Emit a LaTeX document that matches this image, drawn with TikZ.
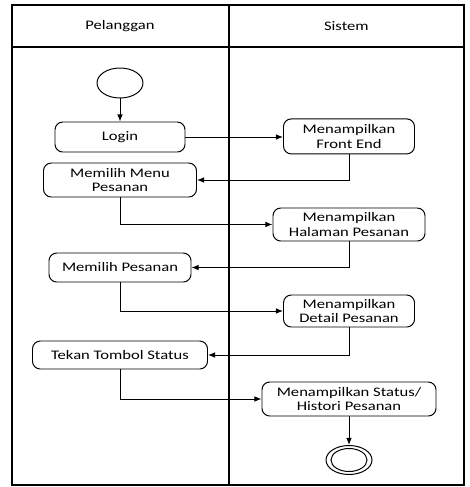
\documentclass[tikz,border=0pt]{standalone}
\usepackage{fontspec}
\setmainfont{Carlito}[FakeStretch=1.27]
\usetikzlibrary{arrows.meta,shapes.geometric,positioning}

\begin{document}
\begin{tikzpicture}[
  >={Latex[length=5pt,width=4pt]}, font=\fontsize{9.3}{10.3}\selectfont,
  act/.style={draw, line width=0.7pt, rounded corners=5.5pt, align=center, inner sep=0pt},
  bullet/.style={draw, ellipse, line width=0.7pt, inner sep=0pt},
  flow/.style={->, line width=0.7pt}
]
\useasboundingbox (0,0) rectangle (11.75,-12.175);
\draw[line width=1.1pt] (0.3,-0.125) rectangle (11.6,-12.125);
\draw[line width=0.8pt] (0.3,-1.175) -- (11.6,-1.175);
\draw[line width=1pt] (5.725,-0.125) -- (5.725,-12.125);
\node (pelanggan) at (3.0,-0.65) {Pelanggan};
\node (sistem) at (8.66,-0.65) {Sistem};

\node[bullet, minimum width=1.15cm, minimum height=0.75cm] (mulai) at (3.0,-2.075) {};
\node[act, minimum width=3.25cm, minimum height=0.75cm] (login) at (3.0,-3.425) {Login};
\node[act, minimum width=3.275cm, minimum height=0.875cm] (front) at (8.725,-3.41) {Menampilkan\\Front End};
\node[act, minimum width=3.825cm, minimum height=0.85cm] (menu) at (3.0,-4.5) {Memilih Menu\\Pesanan};
\node[act, minimum width=3.8cm, minimum height=0.825cm] (halaman) at (8.725,-5.6125) {Menampilkan\\Halaman Pesanan};
\node[act, minimum width=3.55cm, minimum height=0.725cm] (pilih) at (3.0,-6.6875) {Memilih Pesanan};
\node[act, minimum width=3.275cm, minimum height=0.8cm] (detail) at (8.725,-7.775) {Menampilkan\\Detail Pesanan};
\node[act, minimum width=4.375cm, minimum height=0.7cm] (tekan) at (3.0,-8.875) {Tekan Tombol Status};
\node[act, minimum width=4.35cm, minimum height=0.85cm] (status) at (8.725,-9.975) {Menampilkan Status/\\Histori Pesanan};
\node[bullet, minimum width=1.15cm, minimum height=0.725cm] (selesai) at (8.725,-11.5) {};
\node[bullet, minimum width=0.9cm, minimum height=0.575cm] (selesaiin) at (selesai) {};

\draw[flow] (mulai) -- (login);
\draw[flow] (login.east) -- (login.east -| front.west);
\draw[flow] (front.south) |- (menu.east);
\draw[flow] (menu.south) |- (halaman.west);
\draw[flow] (halaman.south) |- (pilih.east);
\draw[flow] (pilih.south) |- (detail.west);
\draw[flow] (detail.south) |- (tekan.east);
\draw[flow] (tekan.south) |- (status.west);
\draw[flow] (status) -- (selesai);
\end{tikzpicture}
\end{document}
